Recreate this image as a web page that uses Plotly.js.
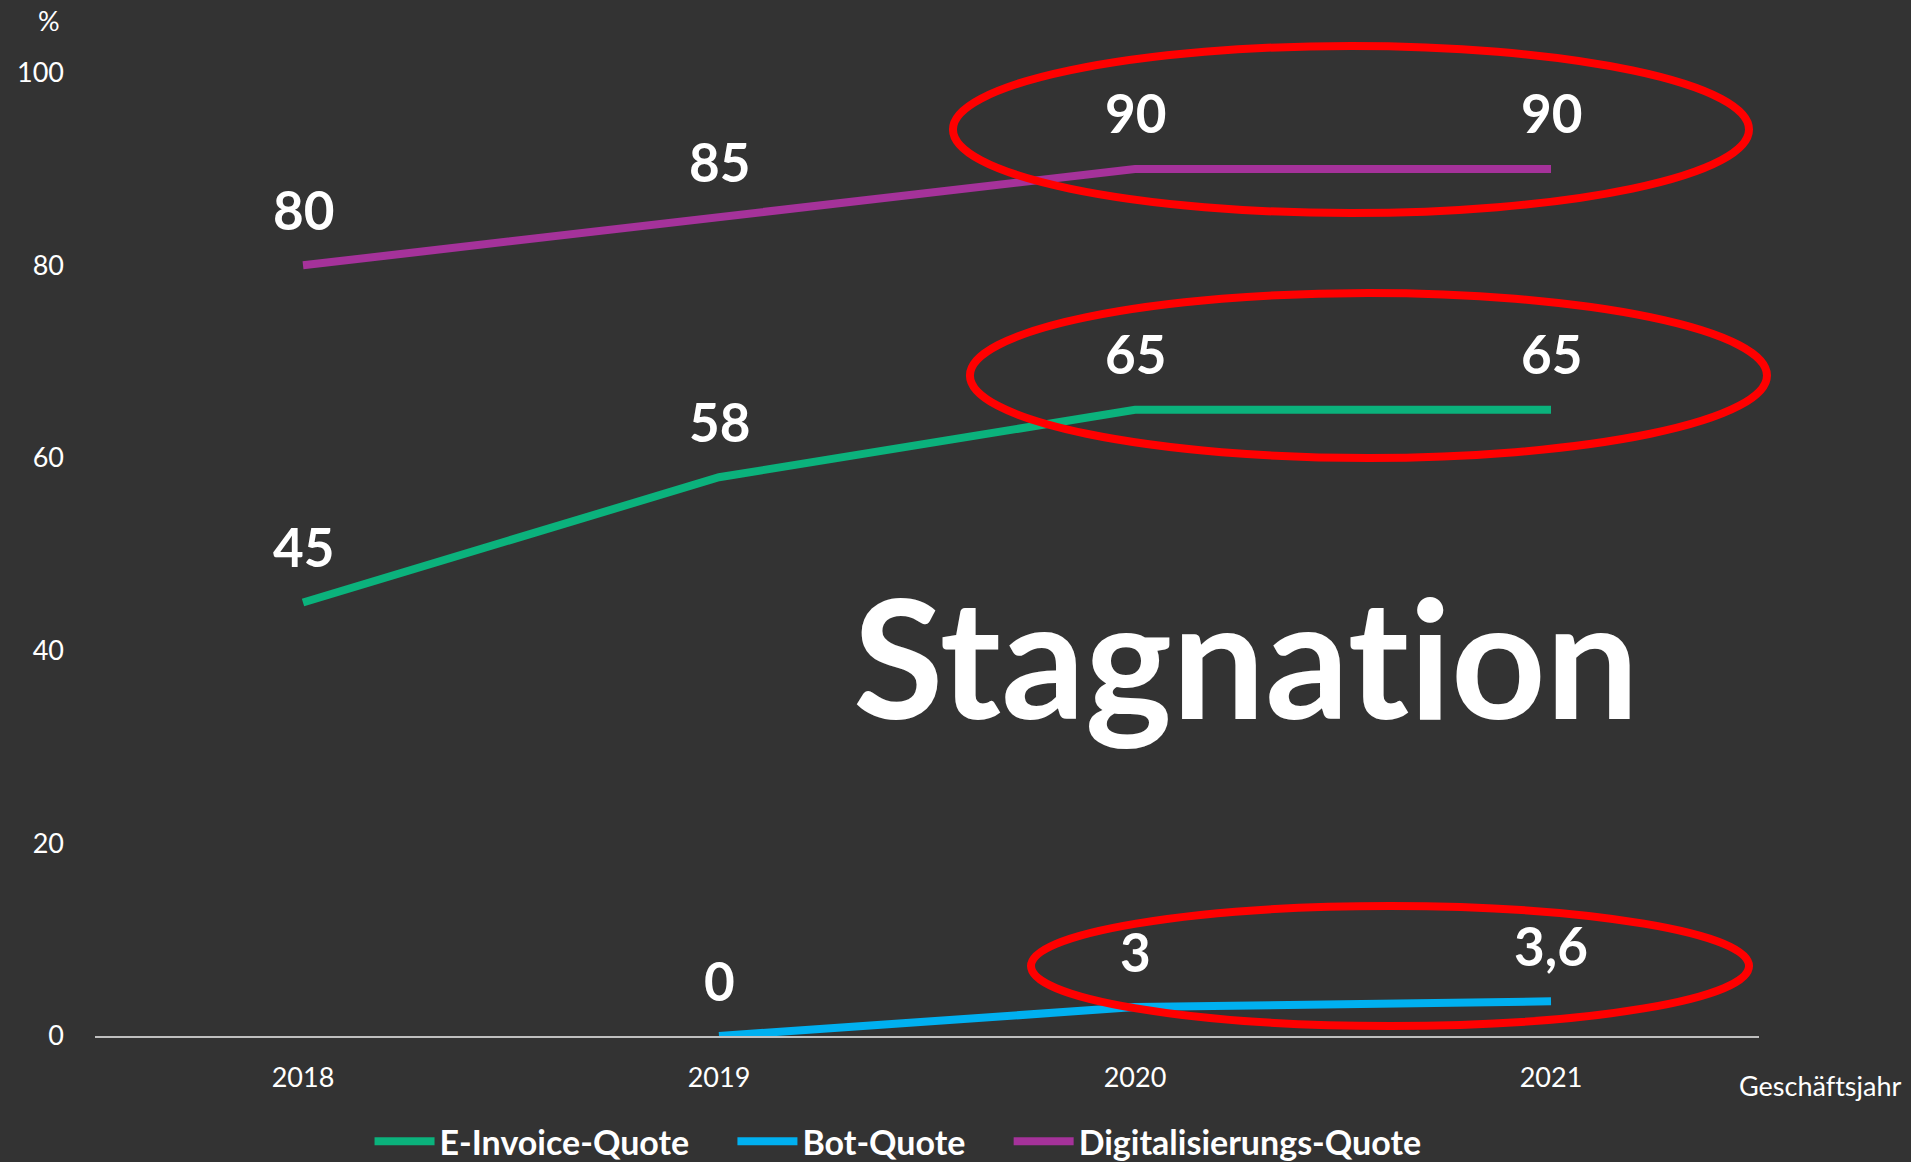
<!DOCTYPE html>
<html>
<head>
<meta charset="utf-8">
<script src="https://cdn.plot.ly/plotly-3.0.1.min.js"></script>
<style>html,body{margin:0;padding:0;background:#333333;}#chart{width:1911px;height:1162px;}svg text{font-variant-ligatures:none;font-feature-settings:"liga" 0;}</style>
</head>
<body>
<div id="chart"></div>
<script>
const years = ['2018', '2019', '2020', '2021'];
const eInvoice = [45, 58, 65, 65];
const botQuote = [null, 0, 3, 3.6];
const digitalQuote = [80, 85, 90, 90];
const seriesNames = ['E-Invoice-Quote', 'Bot-Quote', 'Digitalisierungs-Quote'];
const seriesColors = ['#0BB27C', '#00B0F0', '#A5329A'];
const yTicks = [0, 20, 40, 60, 80, 100];

const FONT = 'Lato, "Open Sans", sans-serif';
const seriesValues = [eInvoice, botQuote, digitalQuote];
const PAD = '\u2002\u2002\u2009';

const traces = seriesValues.map((vals, k) => ({
  type: 'scatter', mode: 'lines', x: years, y: vals,
  name: seriesNames[k] + (k < seriesNames.length - 1 ? PAD : ''),
  connectgaps: false, hoverinfo: 'skip',
  line: {color: seriesColors[k], width: 8}
}));

const fmt = v => String(v).replace('.', ',');
const annotations = [];
seriesValues.forEach(vals => {
  vals.forEach((v, i) => {
    if (v === null) return;
    annotations.push({x: i, y: v, xref: 'x', yref: 'y', text: fmt(v), showarrow: false,
      xanchor: 'center', yanchor: 'middle', yshift: 56,
      font: {family: FONT, size: 53, color: '#FFFFFF', weight: 'bold'}});
  });
});
annotations.push({xref: 'paper', yref: 'paper', x: 0.6917, y: 0.3713, text: 'Stagnation', showarrow: false,
  xanchor: 'center', yanchor: 'middle', font: {family: FONT, size: 165, color: '#FFFFFF', weight: 'bold'}});
annotations.push({xref: 'paper', yref: 'paper', x: -0.0276, y: 0.99, text: '%', showarrow: false,
  xanchor: 'center', yanchor: 'middle', font: {family: FONT, size: 27, color: '#FFFFFF'}});
annotations.push({xref: 'paper', yref: 'paper', x: 0.987, y: -0.0478, text: 'Geschäftsjahr', showarrow: false,
  xanchor: 'left', yanchor: 'middle', font: {family: FONT, size: 27, color: '#FFFFFF'}});

const ell = (x0, x1, y0, y1) => ({type: 'circle', xref: 'paper', yref: 'paper', x0, x1, y0, y1,
  line: {color: '#FF0000', width: 8}, fillcolor: 'rgba(0,0,0,0)', layer: 'above'});
const shapes = [
  ell(0.5156, 0.9940, 0.8021, 0.9650),
  ell(0.5258, 1.0048, 0.5634, 0.7242),
  ell(0.5625, 0.9940, 0.00975, 0.1267)
];

const layout = {
  width: 1911, height: 1162,
  paper_bgcolor: '#333333', plot_bgcolor: '#333333',
  margin: {l: 95, r: 152, t: 10, b: 126, autoexpand: false},
  font: {family: FONT, color: '#FFFFFF'},
  showlegend: true,
  legend: {orientation: 'h', x: 0.4826, xanchor: 'center', y: -0.103, yanchor: 'middle',
    font: {family: FONT, size: 34, color: '#FFFFFF', weight: 'bold'}, bgcolor: 'rgba(0,0,0,0)', itemwidth: 60},
  xaxis: {type: 'category', range: [-0.5, 3.5], showgrid: false, zeroline: false,
    showline: true, linecolor: '#BFBFBF', linewidth: 2, ticks: '', ticklabelstandoff: 17,
    tickfont: {family: FONT, size: 27, color: '#FFFFFF'}, fixedrange: true},
  yaxis: {range: [0, 106.5], tickvals: yTicks, showgrid: false, zeroline: false, showline: false,
    ticks: '', ticklabelstandoff: 30, tickfont: {family: FONT, size: 27, color: '#FFFFFF'}, fixedrange: true},
  annotations, shapes
};

Plotly.newPlot('chart', traces, layout, {displayModeBar: false, staticPlot: true});
</script>
</body>
</html>
